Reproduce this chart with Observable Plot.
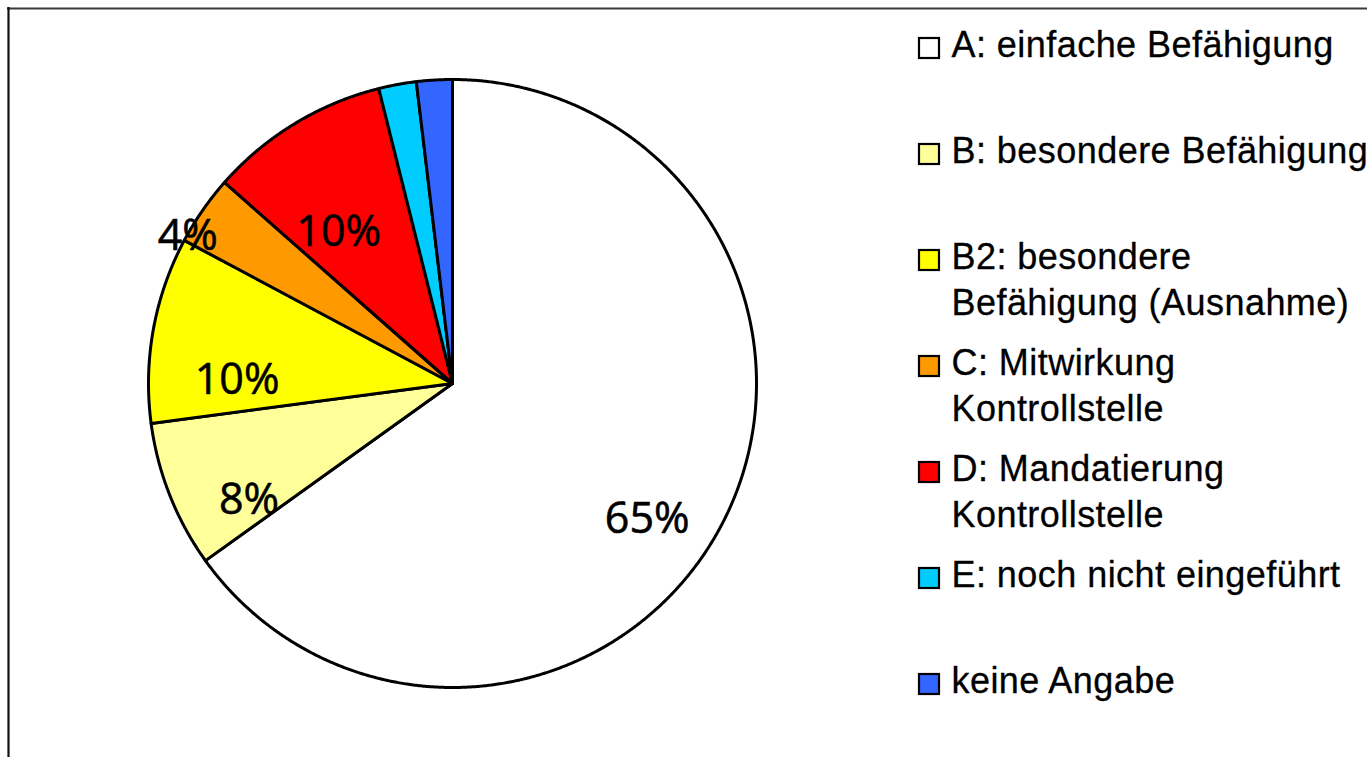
<!DOCTYPE html>
<html>
<head>
<meta charset="utf-8">
<script src="https://cdn.jsdelivr.net/npm/d3@7"></script>
<script src="https://cdn.jsdelivr.net/npm/@observablehq/plot@0.6"></script>
<style>
  html, body { margin: 0; padding: 0; background: #ffffff; }
  #chart svg { display: block; }
  g[font-family="Liberation Sans"] text { letter-spacing: 0.45px; }
</style>
</head>
<body>
<div id="chart"></div>
<script>
// ---- data ----
const categories = [
  "A: einfache Befähigung",
  "B: besondere Befähigung",
  "B2: besondere Befähigung (Ausnahme)",
  "C: Mitwirkung Kontrollstelle",
  "D: Mandatierung Kontrollstelle",
  "E: noch nicht eingeführt",
  "keine Angabe"
];
const legendLabels = [
  "A: einfache Befähigung",
  "B: besondere Befähigung",
  "B2: besondere\nBefähigung (Ausnahme)",
  "C: Mitwirkung\nKontrollstelle",
  "D: Mandatierung\nKontrollstelle",
  "E: noch nicht eingeführt",
  "keine Angabe"
];
const shares = [65.1, 7.8, 9.9, 3.7, 9.6, 2.0, 1.9];
const colors = ["#FFFFFF", "#FFFF99", "#FFFF00", "#FF9900", "#FF0000", "#00CCFF", "#3366FF"];

// ---- layout ----
const W = 1367, H = 757;
const cx = 452, cy = 383, R = 304;
const total = d3.sum(shares);

const arcs = d3.pie().sort(null).value(d => d)(shares);

const slicePoints = [];
arcs.forEach((a, i) => {
  slicePoints.push({cat: categories[i], x: cx, y: cy});
  const n = Math.max(2, Math.ceil((a.endAngle - a.startAngle) / 0.005));
  for (let k = 0; k <= n; k++) {
    const t = a.startAngle + (a.endAngle - a.startAngle) * k / n;
    slicePoints.push({cat: categories[i], x: cx + R * Math.sin(t), y: cy - R * Math.cos(t)});
  }
});

const pieLabels = arcs
  .map((a, i) => ({a, pct: a.value / total * 100}))
  .filter(d => d.pct >= 3)
  .map(d => {
    const m = (d.a.startAngle + d.a.endAngle) / 2;
    const f = d.pct < 5 ? 1.06 : 0.72;
    return {text: Math.round(d.pct) + "%", x: cx + f * R * Math.sin(m), y: cy - f * R * Math.cos(m)};
  });

const legendRows = categories.map((c, i) => {
  const mid = 48 + 106 * i;
  return {cat: c, label: legendLabels[i], y1: mid - 10, y2: mid + 10, ty: mid - 24};
});

const chart = Plot.plot({
  width: W,
  height: H,
  margin: 0,
  x: {domain: [0, W], range: [0, W], axis: null},
  y: {domain: [0, H], range: [0, H], axis: null},
  color: {type: "ordinal", domain: categories, range: colors},
  marks: [
    Plot.ruleY([8], {x1: 7, x2: W, stroke: "#3a3a3a", strokeWidth: 2.2}),
    Plot.ruleX([8], {y1: 7, y2: H, stroke: "#111111", strokeWidth: 2.2}),
    Plot.line(slicePoints, {
      x: "x", y: "y", z: "cat", fill: "cat",
      stroke: "black", strokeWidth: 3, curve: "linear-closed",
      strokeLinejoin: "round"
    }),
    Plot.text(pieLabels, {
      x: "x", y: "y", text: "text", dy: 36,
      fontSize: 43, fontFamily: "Open Sans", fill: "black",
      stroke: "black", strokeWidth: 0.6
    }),
    Plot.rect(legendRows, {
      x1: () => 919, x2: () => 939, y1: "y1", y2: "y2",
      fill: "cat", stroke: "black", strokeWidth: 2.2
    }),
    Plot.text(legendRows, {
      x: () => 951, y: "ty", text: "label",
      textAnchor: "start", lineAnchor: "top", lineHeight: 1.28,
      fontSize: 36, fontFamily: "Liberation Sans", fill: "black",
      stroke: "black", strokeWidth: 0.3
    })
  ]
});

document.getElementById("chart").appendChild(chart);
</script>
</body>
</html>
